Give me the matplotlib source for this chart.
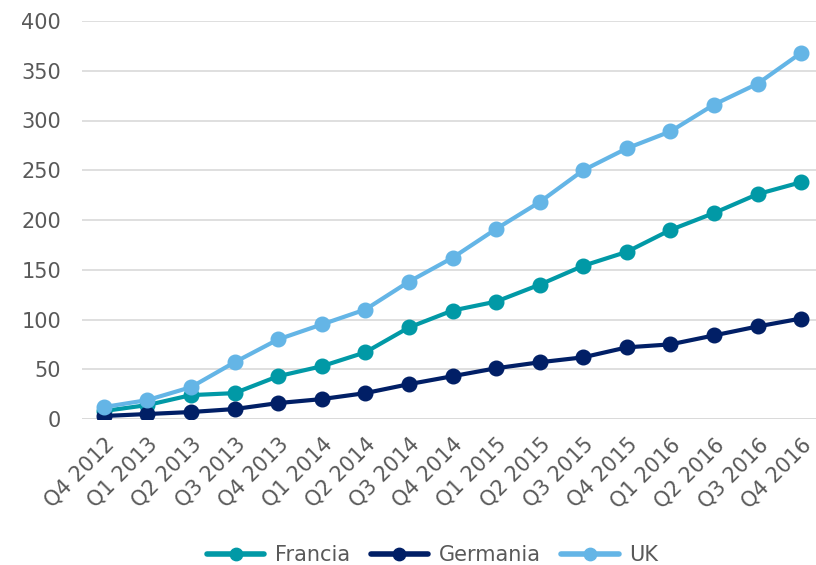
import matplotlib
matplotlib.use("Agg")
import matplotlib.pyplot as plt

categories = ["Q4 2012", "Q1 2013", "Q2 2013", "Q3 2013", "Q4 2013", "Q1 2014", "Q2 2014",
              "Q3 2014", "Q4 2014", "Q1 2015", "Q2 2015", "Q3 2015", "Q4 2015", "Q1 2016",
              "Q2 2016", "Q3 2016", "Q4 2016"]
francia = [8, 14, 24, 26, 43, 53, 67, 92, 109, 118, 135, 154, 168, 190, 207, 226, 238]
germania = [3, 5, 7, 10, 16, 20, 26, 35, 43, 51, 57, 62, 72, 75, 84, 93, 101]
uk = [12, 19, 32, 57, 80, 95, 110, 138, 162, 191, 218, 250, 272, 289, 316, 337, 368]
yticks = [0, 50, 100, 150, 200, 250, 300, 350, 400]

plt.rcParams['font.family'] = ['DejaVu Sans']
fig = plt.figure(figsize=(8.16, 5.65), dpi=100)
ax = fig.add_axes([82/816, 1 - 419/565, (823 - 82)/816, (419 - 21)/565])

x = list(range(len(categories)))
series = [("Francia", francia, "#0199A6"), ("Germania", germania, "#011F66"), ("UK", uk, "#64B5E6")]
for name, vals, col in series:
    ax.plot(x, vals, color=col, lw=3.0, marker='o', ms=10.5, label=name, solid_capstyle='round', zorder=3)

ax.set_xlim(-0.5, 16.5)
ax.set_ylim(0, 400)
ax.set_yticks(yticks)
ax.set_yticklabels([str(v) for v in yticks], fontsize=15, color="#595959")
ax.set_xticks(x)
ax.set_xticklabels(categories, rotation=45, ha='right', va='top', rotation_mode='anchor',
                   fontsize=15, color="#595959")
ax.tick_params(axis='both', length=0)
ax.tick_params(axis='y', pad=15)
ax.tick_params(axis='x', pad=11)
ax.grid(axis='y', color="#D9D9D9", lw=1.2)
ax.set_axisbelow(True)
for s in ax.spines.values():
    s.set_visible(False)
ax.axhline(0, color="#D9D9D9", lw=1.2, zorder=1)

leg = fig.legend(loc='center', bbox_to_anchor=(0.53, 1 - 555/565), ncol=3, frameon=False,
                 fontsize=15, handlelength=2.75, columnspacing=1.0, handletextpad=0.5,
                 markerscale=0.85)
for t in leg.get_texts():
    t.set_color("#595959")
for h in leg.legend_handles:
    h.set_linewidth(4.0)

fig.savefig("out.png", dpi=100)
